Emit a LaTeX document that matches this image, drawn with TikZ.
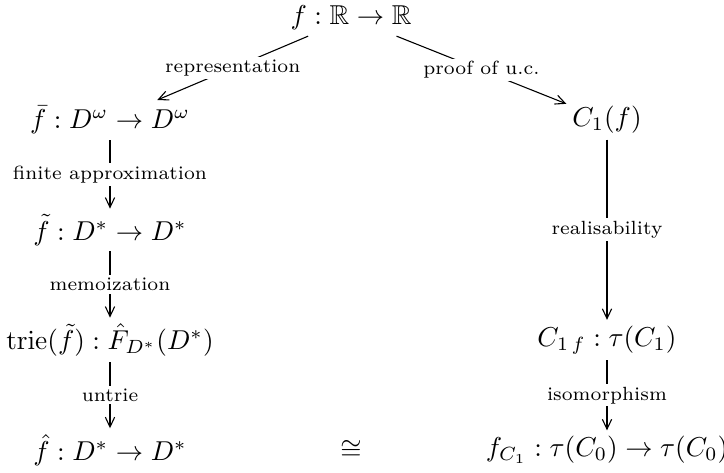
\documentclass[tikz,border=0pt]{standalone}
\usepackage{amssymb}
\usepackage{tikz}
\usetikzlibrary{arrows.meta}

\begin{document}
\begin{tikzpicture}[
    x=0.3663pt, y=-0.3663pt,
    every node/.style={inner sep=2pt},
    map/.style={draw,thin,-{Straight Barb[length=3.6pt,width=3.4pt]}},
    lbl/.style={fill=white,inner sep=1pt,font=\scriptsize,midway}
  ]
  \useasboundingbox (0,0) rectangle (724,472);
  % top and the two columns
  \node (f) at (351,18) {$f : \mathbb{R} \to \mathbb{R}$};
  \node (fbar) at (110,120) {$\bar{f} : D^\omega \to D^\omega$};
  \node (ftilde) at (110,230) {$\tilde{f} : D^* \to D^*$};
  \node (trie) at (110,340) {$\mathrm{trie}(\tilde{f}) : \hat{F}_{D^*}(D^*)$};
  \node (fhat) at (110,450) {$\hat{f} : D^* \to D^*$};
  \node (cf) at (607,120) {$C_1(f)$};
  \node (cff) at (607,340) {$C_{1\,f} : \tau(C_1)$};
  \node (fc) at (607,450) {$f_{C_1} : \tau(C_0) \to \tau(C_0)$};
  \node (iso) at (351,450) {$\cong$};
  % arrows
  \draw[map] (f) -- node[lbl]{representation} (fbar);
  \draw[map] (f) -- node[lbl]{proof of u.c.} (cf);
  \draw[map] (fbar) -- node[lbl]{finite approximation} (ftilde);
  \draw[map] (ftilde) -- node[lbl]{memoization} (trie);
  \draw[map] (trie) -- node[lbl]{untrie} (fhat);
  \draw[map] (cf) -- node[lbl]{realisability} (cff);
  \draw[map] (cff) -- node[lbl]{isomorphism} (fc);
\end{tikzpicture}
\end{document}
